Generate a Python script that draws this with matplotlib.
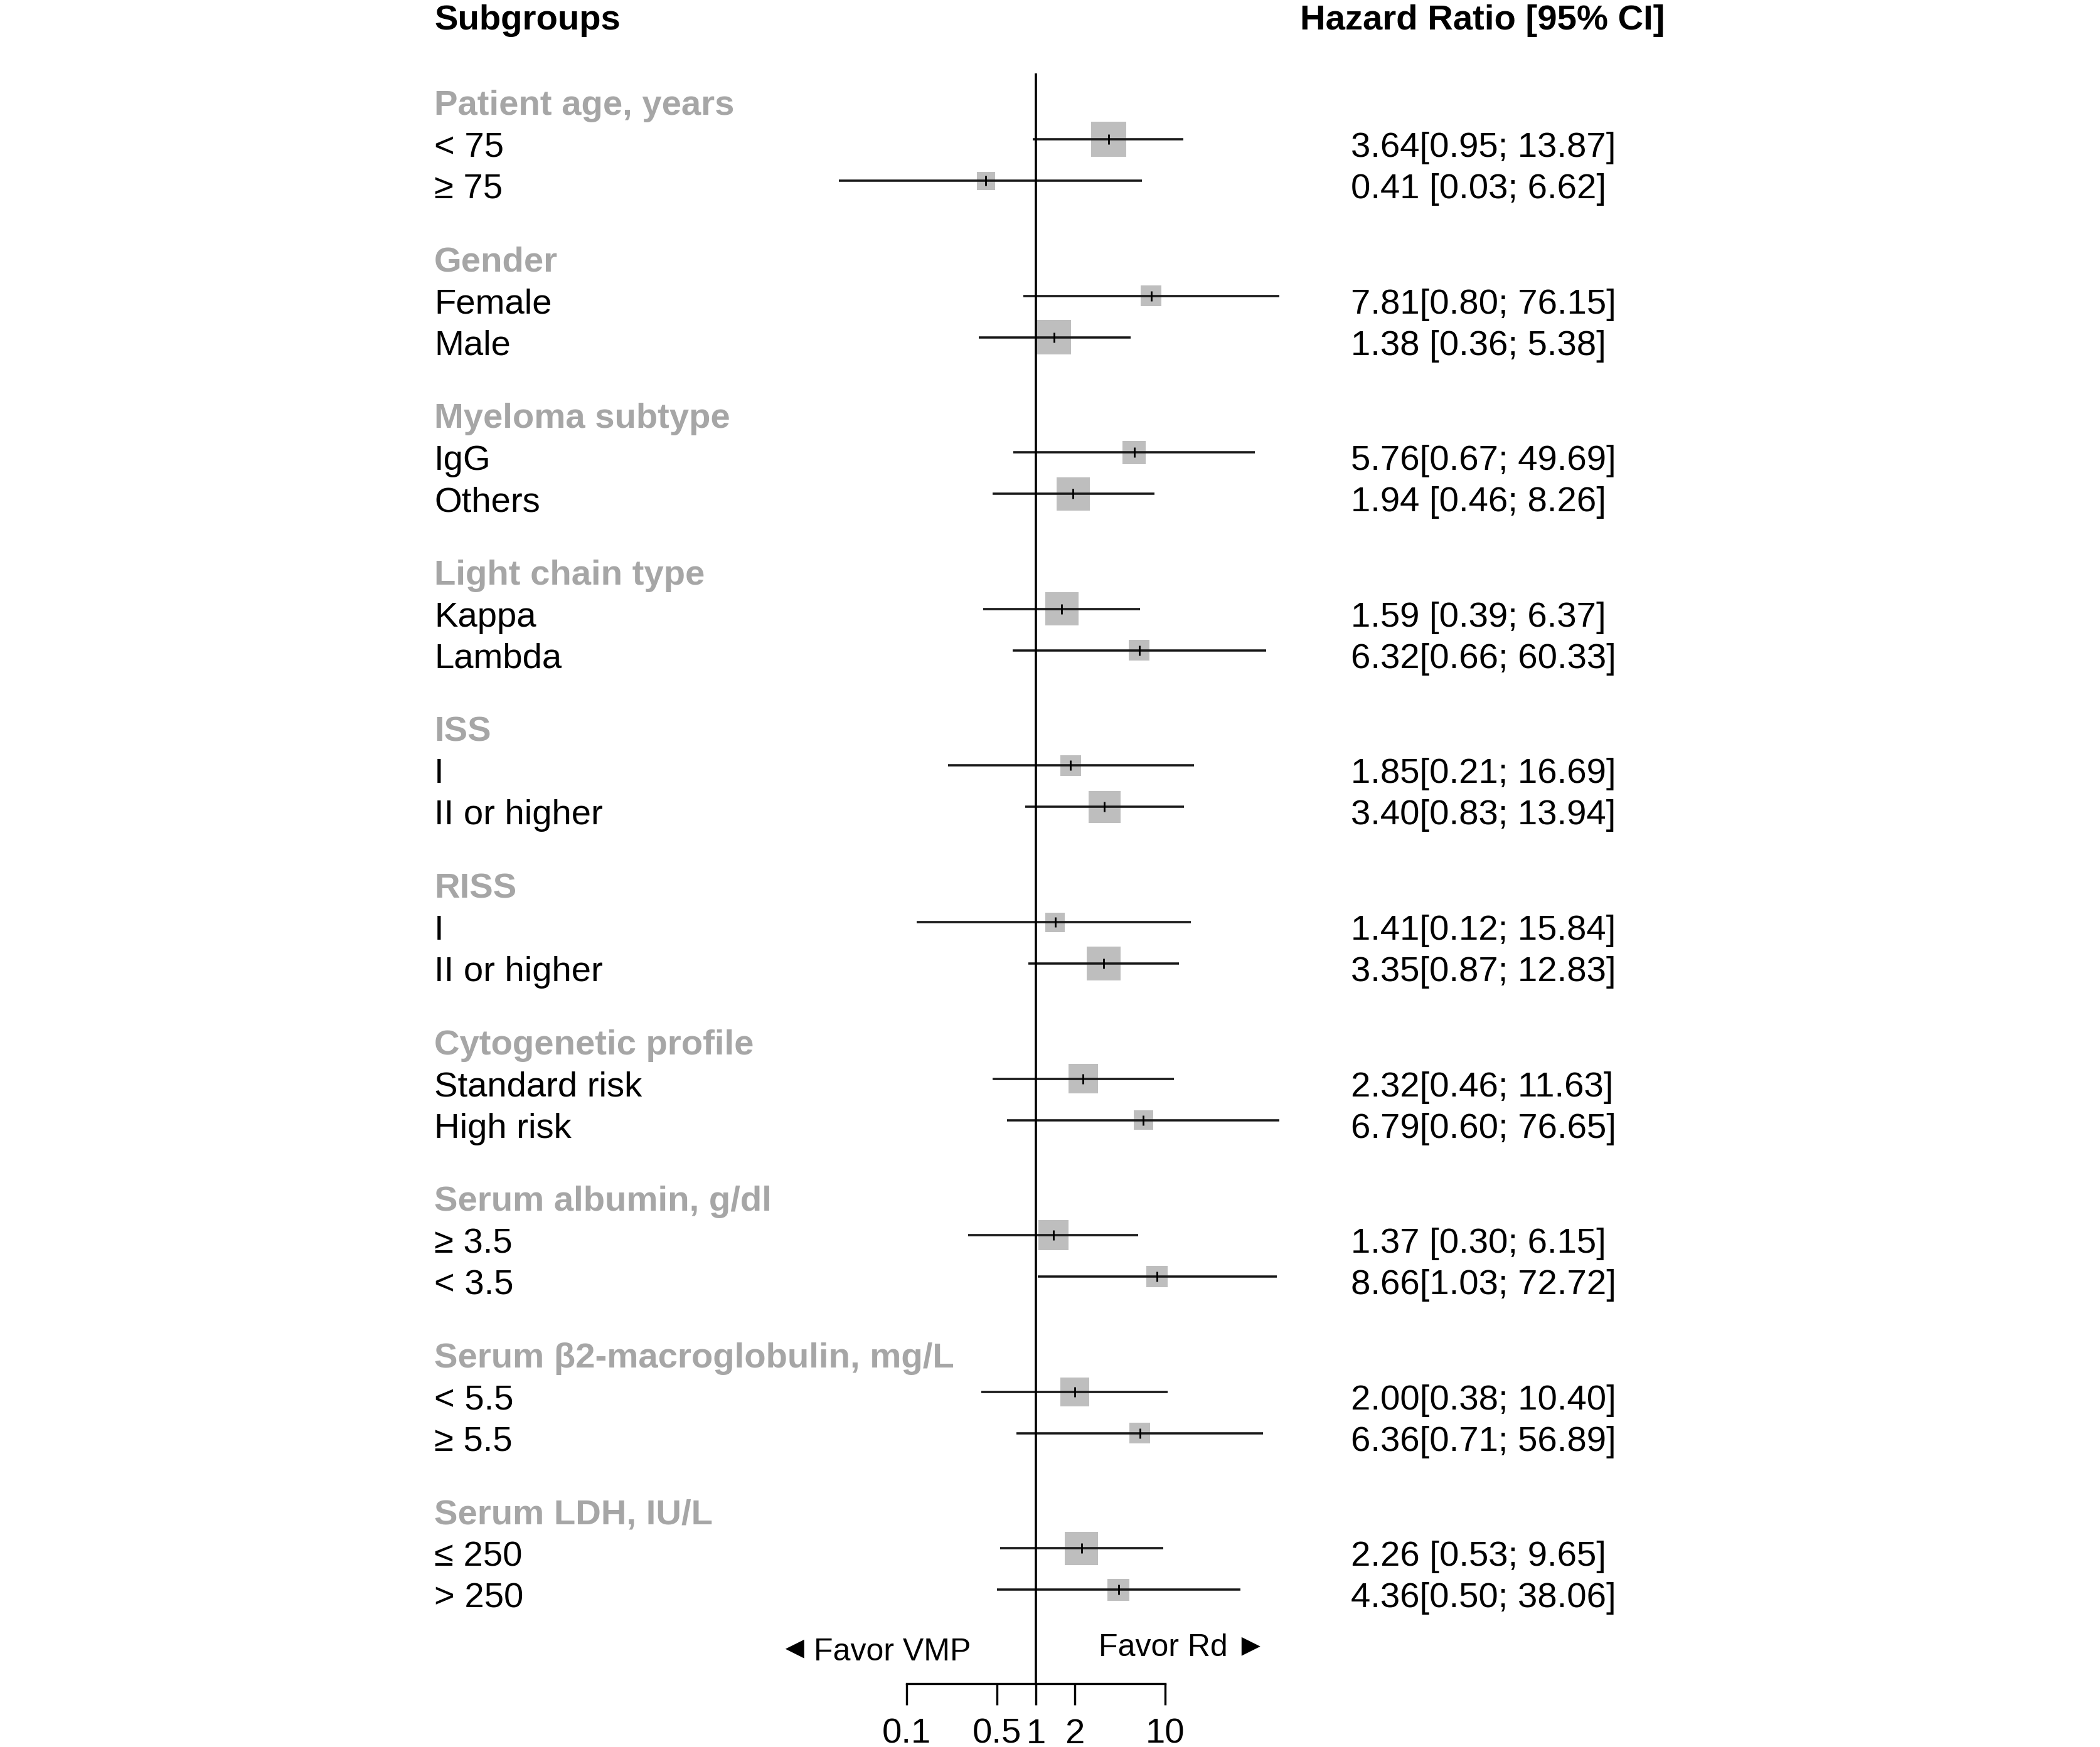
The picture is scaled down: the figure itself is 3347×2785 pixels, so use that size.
import matplotlib
matplotlib.use("Agg")
import matplotlib.pyplot as plt
from matplotlib.ticker import NullLocator
from matplotlib.transforms import blended_transform_factory

plt.rcParams['font.family'] = ['Liberation Sans', 'DejaVu Sans']

# subgroup data (hazard ratio, 95% CI, relative box weight)
groups = ["Patient age, years", "Gender", "Myeloma subtype", "Light chain type",
          "ISS", "RISS", "Cytogenetic profile", "Serum albumin, g/dl",
          "Serum \u03b22-macroglobulin, mg/L", "Serum LDH, IU/L"]
subgroups = [["< 75", "\u2265 75"], ["Female", "Male"], ["IgG", "Others"],
             ["Kappa", "Lambda"], ["I", "II or higher"], ["I", "II or higher"],
             ["Standard risk", "High risk"], ["\u2265 3.5", "< 3.5"],
             ["< 5.5", "\u2265 5.5"], ["\u2264 250", "> 250"]]
hr = [3.64, 0.41, 7.81, 1.38, 5.76, 1.94, 1.59, 6.32, 1.85, 3.40,
      1.41, 3.35, 2.32, 6.79, 1.37, 8.66, 2.00, 6.36, 2.26, 4.36]
ci_lo = [0.95, 0.03, 0.80, 0.36, 0.67, 0.46, 0.39, 0.66, 0.21, 0.83,
         0.12, 0.87, 0.46, 0.60, 0.30, 1.03, 0.38, 0.71, 0.53, 0.50]
ci_hi = [13.87, 6.62, 76.15, 5.38, 49.69, 8.26, 6.37, 60.33, 16.69, 13.94,
         15.84, 12.83, 11.63, 76.65, 6.15, 72.72, 10.40, 56.89, 9.65, 38.06]
weight = [5.6, 2.9, 3.3, 5.5, 3.7, 5.3, 5.3, 3.3, 3.3, 5.1,
          3.1, 5.4, 4.7, 3.1, 4.8, 3.4, 4.6, 3.3, 5.3, 3.5]
xticks = [0.1, 0.5, 1, 2, 10]
xtick_labels = ["0.1", "0.5", "1", "2", "10"]


def hr_label(h, lo, hi):
    sep = "" if hi >= 10 else " "
    return f"{h:.2f}{sep}[{lo:.2f}; {hi:.2f}]"


W, H, DPI = 3348, 2785, 100
PX = 72 / DPI          # points per pixel
FS = 40.5
HEAD_GREY = '#a6a6a6'
BOX_GREY = '#bebebe'

fig = plt.figure(figsize=(W / DPI, H / DPI), dpi=DPI)
x_one, decade = 1651, 206
ax = fig.add_axes([(x_one - 2 * decade) / W, 0, 4 * decade / W, 1])
ax.set_xscale('log')
ax.set_xlim(0.01, 100)
ax.set_ylim(H, 0)
ax.patch.set_alpha(0)

# row layout
first_row, group_step, row_step = 222, 249.6, 66
y_rows, y_heads = [], []
for g in range(len(groups)):
    y0 = first_row + g * group_step
    y_heads.append(y0 - 39)
    for k in range(len(subgroups[g])):
        y_rows.append(y0 + k * row_step)

tr = blended_transform_factory(fig.transFigure, ax.transData)
x_lab, x_hr = 692 / W, 2153 / W

ax.text(x_lab, 47, "Subgroups", transform=tr, fontsize=FS, fontweight='bold',
        va='baseline', ha='left')
ax.text(2072 / W, 47, "Hazard Ratio [95% CI]", transform=tr, fontsize=FS,
        fontweight='bold', va='baseline', ha='left')

labels = [s for pair in subgroups for s in pair]
for name, yh in zip(groups, y_heads):
    ax.text(x_lab, yh, name, transform=tr, fontsize=FS, fontweight='bold',
            color=HEAD_GREY, va='baseline', ha='left')
for lab, y, h, lo, hi in zip(labels, y_rows, hr, ci_lo, ci_hi):
    ax.text(x_lab, y + 28, lab, transform=tr, fontsize=FS, va='baseline', ha='left')
    ax.text(x_hr, y + 28, hr_label(h, lo, hi), transform=tr, fontsize=FS,
            va='baseline', ha='left')

# forest marks
ax.scatter(hr, y_rows, s=[(w * 10 * PX) ** 2 for w in weight], marker='s',
           c=BOX_GREY, linewidths=0, zorder=1)
ax.hlines(y_rows, ci_lo, ci_hi, color='#1a1a1a', lw=3.6 * PX, zorder=2)
ax.scatter(hr, y_rows, s=(16 * PX) ** 2, marker='|', c='black',
           linewidths=2.8 * PX, zorder=3)
ax.vlines(1, 117, 2684, color='black', lw=3.6 * PX, zorder=2)

# x axis
for side in ['left', 'right', 'top']:
    ax.spines[side].set_visible(False)
ax.spines['bottom'].set_position(('data', 2684))
ax.spines['bottom'].set_bounds(0.1, 10)
ax.spines['bottom'].set_linewidth(3.4 * PX)
ax.set_yticks([])
ax.set_xticks(xticks)
ax.set_xticklabels(xtick_labels)
ax.xaxis.set_minor_locator(NullLocator())
ax.tick_params(axis='x', direction='out', length=34 * PX, width=3.4 * PX,
               pad=15, labelsize=FS)

# direction labels
FS_FAV = 36
ax.text(1547 / W, 2647, "Favor VMP", transform=tr, fontsize=FS_FAV,
        va='baseline', ha='right')
ax.text(1266 / W, 2642, "\u25c4", transform=tr, fontsize=36,
        va='baseline', ha='center')
ax.text(1751 / W, 2640, "Favor Rd", transform=tr, fontsize=FS_FAV,
        va='baseline', ha='left')
ax.text(1993 / W, 2638, "\u25ba", transform=tr, fontsize=36,
        va='baseline', ha='center')

fig.savefig("out.png", dpi=DPI, facecolor='white')
